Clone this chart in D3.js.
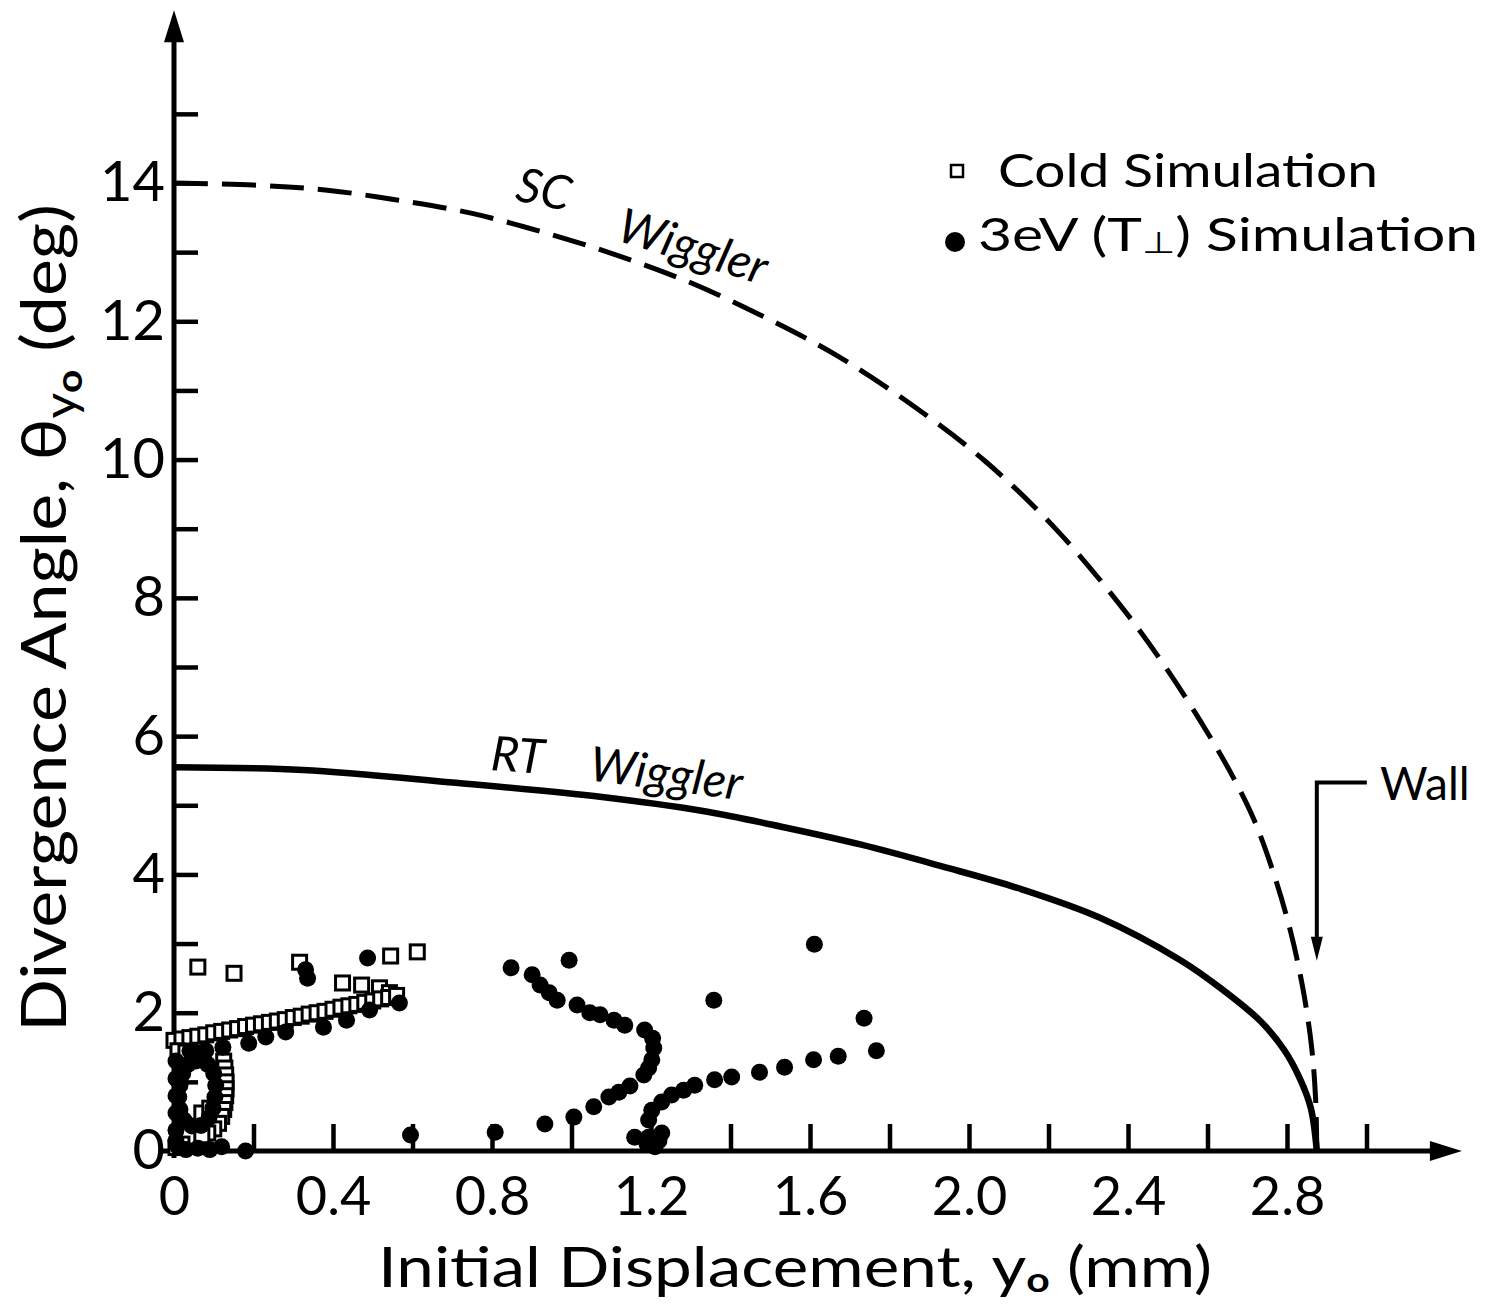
<!DOCTYPE html>
<html><head><meta charset="utf-8">
<script src="https://cdn.jsdelivr.net/npm/d3@7"></script>
<style>
html,body{margin:0;padding:0;background:#fff;}
svg{display:block;}
text{font-family:Lato,"Open Sans",sans-serif;fill:#000;}
</style></head><body>
<svg id="chart" width="1487" height="1305"></svg>
<script>
// ---------- data ----------
const xTickValues = [0.2,0.4,0.6,0.8,1.0,1.2,1.4,1.6,1.8,2.0,2.2,2.4,2.6,2.8,3.0];
const xLabelValues = [0,0.4,0.8,1.2,1.6,2.0,2.4,2.8];
const xTickLabels = ["0","0.4","0.8","1.2","1.6","2.0","2.4","2.8"];
const yTickValues = [1,2,3,4,5,6,7,8,9,10,11,12,13,14,15];
const yLabelValues = [0,2,4,6,8,10,12,14];
const yTickLabels = ["0","2","4","6","8","10","12","14"];

const scWiggler = [[0,14.0],[0.2,13.97],[0.38,13.9],[0.565,13.75],[0.75,13.56],[0.934,13.28],[1.117,12.95],[1.303,12.55],[1.486,12.06],[1.669,11.50],[1.854,10.80],[2.038,9.99],[2.221,8.98],[2.40,7.75],[2.50,6.95],[2.60,6.05],[2.665,5.40],[2.72,4.75],[2.77,3.95],[2.81,3.15],[2.84,2.35],[2.862,1.5],[2.872,0.75],[2.875,0]];
const rtWiggler = [[0,5.55],[0.324,5.51],[0.70,5.33],[1.077,5.12],[1.327,4.92],[1.528,4.69],[1.729,4.43],[1.930,4.12],[2.130,3.79],[2.331,3.37],[2.532,2.76],[2.632,2.36],[2.733,1.88],[2.793,1.46],[2.833,1.04],[2.860,0.62],[2.875,0]];

// Cold simulation (open squares)
const coldSim = [
  [0.060,2.66],[0.151,2.57],[0.316,2.73],[0.424,2.43],[0.472,2.40],[0.545,2.82],[0.612,2.88],[0.517,2.36],[0.542,2.29],
  [0.00,1.60],[0.02,1.62],[0.04,1.64],[0.06,1.66],[0.08,1.68],[0.10,1.71],[0.12,1.73],[0.14,1.75],[0.16,1.77],[0.18,1.80],
  [0.20,1.82],[0.22,1.84],[0.24,1.86],[0.26,1.88],[0.28,1.90],[0.30,1.93],[0.32,1.95],[0.34,1.98],[0.36,2.00],[0.38,2.02],
  [0.40,2.05],[0.42,2.08],[0.44,2.10],[0.46,2.12],[0.48,2.15],[0.50,2.17],[0.52,2.20],[0.54,2.22],[0.56,2.25],
  [0.01,1.45],[0.03,1.43],[0.05,1.41],[0.07,1.40],
  [0.125,1.30],[0.128,1.20],[0.130,1.10],[0.131,1.00],[0.131,0.90],[0.130,0.80],[0.128,0.70],[0.125,0.60],[0.120,0.50],
  [0.112,0.40],[0.100,0.32],[0.085,0.26],[0.070,0.22],[0.07,0.55],[0.09,0.62],
  [0.005,0.05],[0.02,0.10]
];
// 3 eV (T-perp) simulation (filled circles)
const warmSim = [
  [0.331,2.62],[0.336,2.50],[0.487,2.79],
  [0.04,1.45],[0.08,1.45],[0.123,1.50],[0.188,1.56],[0.231,1.65],[0.281,1.72],[0.376,1.79],[0.434,1.89],[0.492,2.04],[0.567,2.14],
  [0.055,1.30],[0.085,1.25],[0.100,1.12],[0.105,0.95],[0.103,0.78],[0.098,0.62],[0.088,0.48],[0.068,0.37],[0.045,0.36],
  [0.025,0.45],[0.015,0.60],[0.012,0.78],[0.015,0.95],[0.022,1.12],[0.035,1.25],
  [0.005,1.30],[0.005,1.05],[0.005,0.80],[0.005,0.55],[0.005,0.30],[0.005,0.15],
  [0.01,0.06],[0.03,0.02],[0.06,0.04],[0.09,0.02],[0.12,0.06],[0.18,0.0],
  [0.595,0.23],[0.808,0.27],[0.933,0.39],
  [0.848,2.65],[0.994,2.76],[0.901,2.55],[0.921,2.40],[0.944,2.29],[0.964,2.18],[1.014,2.11],[1.046,2.00],[1.072,1.97],
  [1.107,1.89],[1.134,1.82],[1.184,1.75],[1.204,1.63],[1.207,1.49],[1.202,1.32],[1.194,1.20],[1.182,1.10],[1.147,0.94],
  [1.119,0.85],[1.094,0.78],[1.056,0.64],[1.006,0.49],
  [1.159,0.20],[1.194,0.20],[1.227,0.26],[1.210,0.06],[1.194,0.45],[1.19,0.10],[1.22,0.15],
  [1.202,0.59],[1.227,0.71],[1.252,0.81],[1.282,0.88],[1.310,0.95],[1.360,1.03],[1.403,1.07],[1.473,1.14],[1.536,1.21],
  [1.609,1.32],[1.671,1.37],[1.767,1.45],
  [1.358,2.18],[1.611,2.99],[1.736,1.92]
];
const wallX = 2.875;
const xAxisMax = 3.24, yAxisMax = 16.5;

// ---------- scales ----------
const svg = d3.select("#chart");
const x = d3.scaleLinear().domain([0, 2.8]).range([174, 1287]);
const y = d3.scaleLinear().domain([0, 14]).range([1151, 183]);

// ---------- axes ----------
const xTicks = svg.append("g").attr("transform", `translate(0,${y(0)})`)
  .call(d3.axisBottom(x).tickValues(xTickValues).tickSizeInner(-27).tickSizeOuter(0).tickFormat(""));
xTicks.select(".domain").remove();
xTicks.selectAll(".tick line").attr("stroke", "#000").attr("stroke-width", 4.5);

const xLabels = svg.append("g").attr("transform", `translate(0,${y(0)})`)
  .call(d3.axisBottom(x).tickValues(xLabelValues).tickSize(0).tickPadding(26)
        .tickFormat((d, i) => xTickLabels[i]));
xLabels.select(".domain").remove();
xLabels.selectAll(".tick text").attr("font-size", 54).attr("font-family", "Lato, 'Open Sans', sans-serif").attr("fill", "#000");

const yTicks = svg.append("g").attr("transform", `translate(${x(0)},0)`)
  .call(d3.axisLeft(y).tickValues(yTickValues).tickSizeInner(-24).tickSizeOuter(0).tickFormat(""));
yTicks.select(".domain").remove();
yTicks.selectAll(".tick line").attr("stroke", "#000").attr("stroke-width", 4.5);

const yLabels = svg.append("g").attr("transform", `translate(${x(0)},0)`)
  .call(d3.axisLeft(y).tickValues(yLabelValues).tickSize(0).tickPadding(9)
        .tickFormat((d, i) => yTickLabels[i]));
yLabels.select(".domain").remove();
yLabels.selectAll(".tick text").attr("font-size", 56).attr("font-family", "Lato, 'Open Sans', sans-serif").attr("fill", "#000");

// axis lines with arrows
svg.append("line").attr("x1", x(-0.03)).attr("x2", x(xAxisMax) - 20).attr("y1", y(0)).attr("y2", y(0))
  .attr("stroke", "#000").attr("stroke-width", 5);
svg.append("path").attr("d", `M${x(xAxisMax)},${y(0)} L${x(xAxisMax)-32},${y(0)-10} L${x(xAxisMax)-32},${y(0)+10} Z`).attr("fill", "#000");
svg.append("line").attr("x1", x(0)).attr("x2", x(0)).attr("y1", y(-0.1)).attr("y2", y(yAxisMax) + 20)
  .attr("stroke", "#000").attr("stroke-width", 5);
svg.append("path").attr("d", `M${x(0)},${y(yAxisMax)} L${x(0)-10},${y(yAxisMax)+32} L${x(0)+10},${y(yAxisMax)+32} Z`).attr("fill", "#000");

// ---------- curves ----------
const line = d3.line().x(d => x(d[0])).y(d => y(d[1])).curve(d3.curveCatmullRom.alpha(0.5));
svg.append("path").datum(scWiggler).attr("d", line).attr("fill", "none")
  .attr("stroke", "#000").attr("stroke-width", 5).attr("stroke-dasharray", "34,14");
svg.append("path").datum(rtWiggler).attr("d", line).attr("fill", "none")
  .attr("stroke", "#000").attr("stroke-width", 6.5);

// ---------- scatter ----------
const sq = 14;
svg.append("g").selectAll("rect").data(coldSim).join("rect")
  .attr("x", d => x(d[0]) - sq/2).attr("y", d => y(d[1]) - sq/2)
  .attr("width", sq).attr("height", sq)
  .attr("fill", "#fff").attr("stroke", "#000").attr("stroke-width", 3);
svg.append("g").selectAll("circle").data(warmSim).join("circle")
  .attr("cx", d => x(d[0])).attr("cy", d => y(d[1])).attr("r", 8.5).attr("fill", "#000");

// ---------- annotations ----------
function label(txt, px, py, rot, size) {
  return svg.append("text").attr("transform", `translate(${px},${py}) rotate(${rot})`)
    .attr("font-size", size).attr("font-style", "italic").text(txt);
}
label("SC", 514, 200, 12, 48);
label("Wiggler", 615, 240, 17, 48);
label("RT", 490, 770, 4, 48);
label("Wiggler", 588, 780, 7.5, 48);

// Wall marker
const wx = x(wallX);
svg.append("path").attr("d", `M${wx+50},${y(5.33)} L${wx},${y(5.33)} L${wx},${y(2.95)}`)
  .attr("fill", "none").attr("stroke", "#000").attr("stroke-width", 4);
svg.append("path").attr("d", `M${wx},${y(2.75)} L${wx-6},${y(3.1)} L${wx+6},${y(3.1)} Z`).attr("fill", "#000");
svg.append("text").attr("x", 1380).attr("y", 800).attr("font-size", 46).text("Wall");

// legend
svg.append("rect").attr("x", 951).attr("y", 165).attr("width", 12).attr("height", 12)
  .attr("fill", "#fff").attr("stroke", "#000").attr("stroke-width", 2.5);
svg.append("circle").attr("cx", 955).attr("cy", 242).attr("r", 10).attr("fill", "#000");
function fitText(sel, base, width) {
  const w = sel.node().getComputedTextLength();
  sel.attr("transform", `${base} scale(${width / w},1)`);
}
const l1 = svg.append("text").attr("font-size", 46).text("Cold  Simulation");
fitText(l1, "translate(998,187)", 380);
const l2 = svg.append("text").attr("font-size", 46);
l2.append("tspan").text("3eV  (T");
l2.append("tspan").attr("font-size", 30).attr("dy", 2).text("⊥");
l2.append("tspan").attr("dy", -2).text(")  Simulation");
fitText(l2, "translate(978,251)", 500);

// axis titles
const xt = svg.append("text").attr("font-size", 56).attr("text-anchor", "start");
xt.append("tspan").text("Initial  Displacement,  y");
xt.append("tspan").attr("font-size", 34).attr("font-weight", "bold").attr("dy", 5).text("o");
xt.append("tspan").attr("dy", -5).text("  (mm)");
fitText(xt, "translate(378,1287)", 834);

const yt = svg.append("text").attr("font-size", 62);
yt.append("tspan").text("Divergence  Angle,  θ");
yt.append("tspan").attr("font-size", 44).attr("dy", 10).text("y");
yt.append("tspan").attr("font-size", 36).attr("dy", 6).attr("font-weight", "bold").text("o");
yt.append("tspan").attr("dy", -16).text("  (deg)");
fitText(yt, "translate(66,1032) rotate(-90)", 828);
</script>
</body></html>
